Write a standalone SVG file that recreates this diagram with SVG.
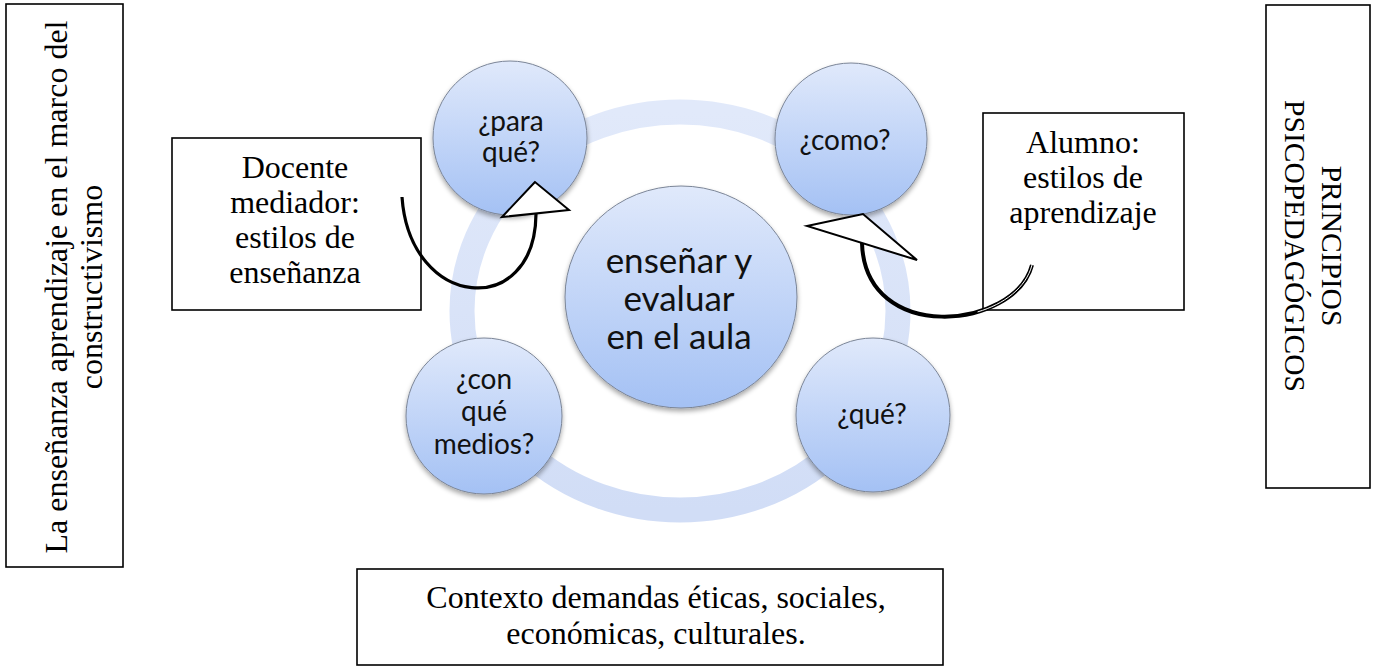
<svg xmlns="http://www.w3.org/2000/svg" width="1373" height="667" viewBox="0 0 1373 667">
<style>
.box{fill:#fff;stroke:#000;stroke-width:1.6}
.serif{font-family:"Liberation Serif","Times New Roman",serif;fill:#000}
.sans{font-family:Lato,"Open Sans",sans-serif;fill:#111}
.bub{fill:url(#bubG);stroke:#7b8597;stroke-width:1;filter:url(#sh)}
.tri{fill:#fff;stroke:#000;stroke-width:2;stroke-linejoin:miter}
</style>
<defs>
<linearGradient id="bubG" x1="0" y1="0" x2="0" y2="1">
<stop offset="0" stop-color="#e0e9fb"/>
<stop offset="1" stop-color="#a4c1f4"/>
</linearGradient>
<linearGradient id="ringG" x1="0" y1="0" x2="0" y2="1">
<stop offset="0" stop-color="#e1e9fa"/>
<stop offset="1" stop-color="#d1ddf6"/>
</linearGradient>
<filter id="sh" x="-20%" y="-20%" width="140%" height="150%">
<feGaussianBlur in="SourceAlpha" stdDeviation="2.5"/>
<feOffset dy="3" result="b"/>
<feComponentTransfer><feFuncA type="linear" slope="0.35"/></feComponentTransfer>
<feMerge><feMergeNode/><feMergeNode in="SourceGraphic"/></feMerge>
</filter>
</defs>

<g id="left-box">
<rect class="box" x="6" y="4" width="117" height="563"/>
<text class="serif" font-size="32" text-anchor="middle" transform="translate(67,287) rotate(-90)"><tspan x="0" y="0">La enseñanza aprendizaje en el marco del</tspan><tspan x="0" y="35">constructivismo</tspan></text>
</g>

<g id="right-box">
<rect class="box" x="1266" y="5" width="104" height="483"/>
<text class="serif" font-size="29.5" text-anchor="middle" transform="translate(1322,246) rotate(90)"><tspan x="0" y="0">PRINCIPIOS</tspan><tspan x="0" y="37">PSICOPEDAGÓGICOS</tspan></text>
</g>

<g id="ring">
<ellipse cx="680" cy="311" rx="218" ry="199" fill="none" stroke="url(#ringG)" stroke-width="25"/>
</g>

<g id="center">
<ellipse class="bub" cx="681" cy="297" rx="116" ry="111"/>
<text class="sans" font-size="35" text-anchor="middle"><tspan x="679" y="273">enseñar y</tspan><tspan x="679" y="311">evaluar</tspan><tspan x="679" y="349">en el aula</tspan></text>
</g>

<g id="para-que">
<circle class="bub" cx="510" cy="138" r="77"/>
<text class="sans" font-size="28" text-anchor="middle"><tspan x="511" y="131">¿para</tspan><tspan x="511" y="162">qué?</tspan></text>
</g>

<g id="como">
<circle class="bub" cx="851" cy="139" r="76"/>
<text class="sans" font-size="28" text-anchor="middle" x="845" y="150">¿como?</text>
</g>

<g id="con-que-medios">
<circle class="bub" cx="484" cy="416" r="78"/>
<text class="sans" font-size="28" text-anchor="middle"><tspan x="484" y="389">¿con</tspan><tspan x="484" y="421">qué</tspan><tspan x="484" y="454">medios?</tspan></text>
</g>

<g id="que">
<circle class="bub" cx="873" cy="415" r="77"/>
<text class="sans" font-size="28" text-anchor="middle" x="872" y="424">¿qué?</text>
</g>

<g id="docente">
<rect class="box" x="172" y="138" width="249" height="172"/>
<text class="serif" font-size="32" text-anchor="middle"><tspan x="295" y="178">Docente</tspan><tspan x="295" y="213">mediador:</tspan><tspan x="295" y="248">estilos de</tspan><tspan x="295" y="283">enseñanza</tspan></text>
</g>

<g id="alumno">
<rect class="box" x="983" y="113" width="201" height="197"/>
<text class="serif" font-size="32" text-anchor="middle"><tspan x="1083" y="153">Alumno:</tspan><tspan x="1083" y="188">estilos de</tspan><tspan x="1083" y="223">aprendizaje</tspan></text>
</g>

<g id="contexto">
<rect class="box" x="357" y="569" width="586" height="96"/>
<text class="serif" font-size="32" text-anchor="middle"><tspan x="656" y="608">Contexto demandas éticas, sociales,</tspan><tspan x="656" y="644">económicas, culturales.</tspan></text>
</g>

<g id="connectors">
<path d="M402,197 C410,310 535,320 536,214" fill="none" stroke="#000" stroke-width="3.2"/>
<polygon class="tri" points="535,182 502,217 569,210"/>
<path d="M1032,265 C1015,330 865,345 862,243" fill="none" stroke="#000" stroke-width="4"/>
<path d="M1032,265 C1015,330 865,345 862,243" fill="none" stroke="#fff" stroke-width="1" stroke-dasharray="75 180 120"/>
<polygon class="tri" points="807,226 863,214 917,260"/>
</g>
</svg>
